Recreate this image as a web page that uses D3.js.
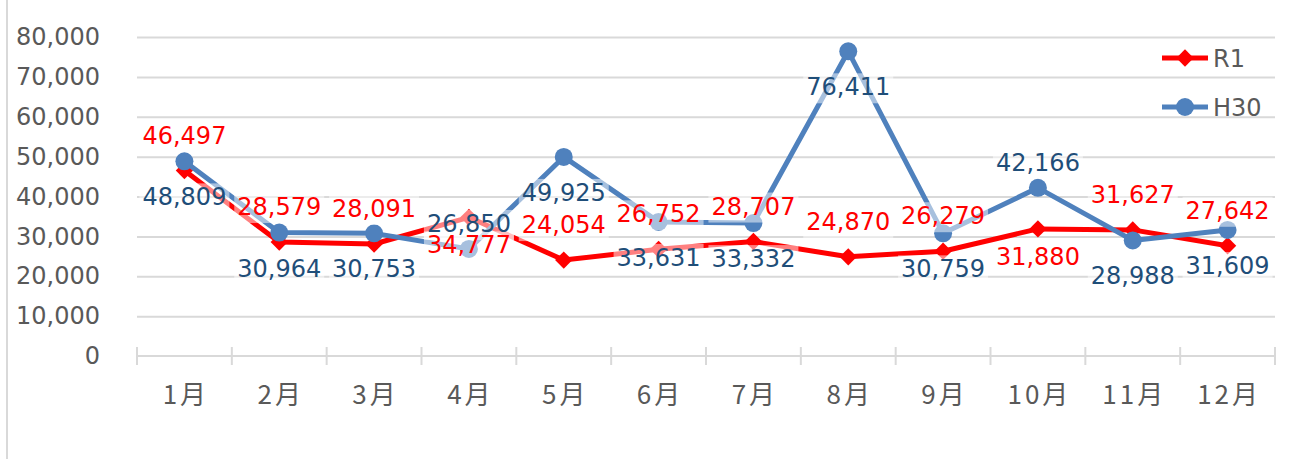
<!DOCTYPE html>
<html>
<head>
<meta charset="utf-8">
<script src="https://cdn.jsdelivr.net/npm/d3@7"></script>
<style>
  body { margin: 0; background: #fff; }
  svg { display: block; }
</style>
</head>
<body>
<div id="chart"></div>
<script>
// ---- data ----
const months = ['1月', '2月', '3月', '4月', '5月', '6月', '7月', '8月', '9月', '10月', '11月', '12月'];
const r1Values = [46497, 28579, 28091, 34777, 24054, 26752, 28707, 24870, 26279, 31880, 31627, 27642];
const h30Values = [48809, 30964, 30753, 26850, 49925, 33631, 33332, 76411, 30759, 42166, 28988, 31609];
const yTicks = [0, 10000, 20000, 30000, 40000, 50000, 60000, 70000, 80000];
const seriesNames = ['R1', 'H30'];

// label side per point ('a' above, 'b' below)
const r1LabelSide = ['a', 'a', 'a', 'b', 'a', 'a', 'a', 'a', 'a', 'b', 'a', 'a'];
const h30LabelSide = ['b', 'b', 'b', 'a', 'b', 'b', 'b', 'b', 'b', 'a', 'b', 'b'];

const width = 1289, height = 459;
const plotLeft = 137, plotRight = 1275, plotTop = 37, plotBottom = 356;
const gridColor = '#d9d9d9', textGray = '#595959';
const red = '#ff0000', blue = '#4f81bd', blueText = '#1f4e79';
const numFont = '"DejaVu Sans", Verdana, sans-serif';

const svg = d3.select('#chart').append('svg')
  .attr('width', width).attr('height', height);

svg.append('rect').attr('width', width).attr('height', height).attr('fill', '#fff');

// chart area border (left edge only visible)
svg.append('line')
  .attr('x1', 7).attr('x2', 7).attr('y1', 0).attr('y2', height)
  .attr('stroke', gridColor).attr('stroke-width', 2);

/*----- scales -----*/
const x = d3.scaleBand().domain(months).range([plotLeft, plotRight]);
const y = d3.scaleLinear().domain([0, 80000]).range([plotBottom, plotTop]);
const cx = m => x(m) + x.bandwidth() / 2;

/*----- gridlines -----*/
const grid = svg.append('g')
  .attr('transform', 'translate(' + plotLeft + ',0)')
  .call(d3.axisLeft(y).tickValues(yTicks.slice(1)).tickSize(-(plotRight - plotLeft)).tickFormat(''));
grid.select('.domain').remove();
grid.selectAll('line').attr('stroke', gridColor).attr('stroke-width', 2);

/*----- y axis labels -----*/
const yAxis = svg.append('g')
  .attr('transform', 'translate(' + plotLeft + ',0)')
  .call(d3.axisLeft(y).tickValues(yTicks).tickSize(0).tickPadding(37).tickFormat(d3.format(',')));
yAxis.select('.domain').remove();
yAxis.selectAll('text')
  .attr('fill', textGray)
  .style('font-family', numFont)
  .style('font-size', '24px');

/*----- x axis -----*/
const xAxis = svg.append('g');
xAxis.append('line')
  .attr('x1', plotLeft).attr('x2', plotRight)
  .attr('y1', plotBottom).attr('y2', plotBottom)
  .attr('stroke', gridColor).attr('stroke-width', 2);

const boundaries = months.map(m => x(m)).concat([x.range()[1]]);
xAxis.selectAll('.tickmark').data(boundaries).enter().append('line')
  .attr('class', 'tickmark')
  .attr('x1', d => d).attr('x2', d => d)
  .attr('y1', plotBottom - 9).attr('y2', plotBottom + 9)
  .attr('stroke', gridColor).attr('stroke-width', 2);

const ls = 3;
xAxis.selectAll('.xlabel').data(months).enter().append('text')
  .attr('class', 'xlabel')
  .attr('x', d => cx(d) + ls / 2)
  .attr('y', 404)
  .attr('text-anchor', 'middle')
  .attr('fill', textGray)
  .style('font-family', '"Noto Sans CJK JP", sans-serif')
  .style('font-size', '26px')
  .style('letter-spacing', ls + 'px')
  .text(d => d);

/*----- lines and markers -----*/
const line = d3.line()
  .x((d, i) => cx(months[i]))
  .y(d => y(d));

const diamond = d3.symbol(d3.symbolSquare, 150);

svg.append('path')
  .datum(r1Values)
  .attr('d', line)
  .attr('fill', 'none')
  .attr('stroke', red).attr('stroke-width', 5)
  .attr('stroke-linejoin', 'round');

svg.append('g').selectAll('path').data(r1Values).enter().append('path')
  .attr('d', diamond)
  .attr('transform', (d, i) => 'translate(' + cx(months[i]) + ',' + y(d) + ') rotate(45)')
  .attr('fill', red);

svg.append('path')
  .datum(h30Values)
  .attr('d', line)
  .attr('fill', 'none')
  .attr('stroke', blue).attr('stroke-width', 5)
  .attr('stroke-linejoin', 'round');

svg.append('g').selectAll('circle').data(h30Values).enter().append('circle')
  .attr('cx', (d, i) => cx(months[i]))
  .attr('cy', d => y(d))
  .attr('r', 9)
  .attr('fill', blue);

/*----- data labels (semi transparent white boxes) -----*/
const boxG = svg.append('g');
const labelG = svg.append('g');

function addLabels(values, sides, color, offA, offB) {
  values.forEach(function (v, i) {
    const t = labelG.append('text')
      .attr('x', cx(months[i]))
      .attr('y', y(v) + (sides[i] === 'a' ? offA : offB))
      .attr('text-anchor', 'middle')
      .attr('fill', color)
      .style('font-family', numFont)
      .style('font-size', '24px')
      .text(d3.format(',')(v));
    const bb = t.node().getBBox();
    boxG.append('rect')
      .attr('x', bb.x - 3).attr('y', bb.y)
      .attr('width', bb.width + 6).attr('height', bb.height + 2)
      .attr('fill', '#fff').attr('fill-opacity', 0.5);
  });
}
addLabels(r1Values, r1LabelSide, red, -27, 36);
addLabels(h30Values, h30LabelSide, blueText, -17, 44);

/*----- legend -----*/
const legend = svg.append('g');
const legendItems = [
  { name: seriesNames[0], color: red, ly: 58 },
  { name: seriesNames[1], color: blue, ly: 107 }
];
legendItems.forEach(function (it, k) {
  legend.append('line')
    .attr('x1', 1162).attr('x2', 1208)
    .attr('y1', it.ly).attr('y2', it.ly)
    .attr('stroke', it.color).attr('stroke-width', 5);
  if (k === 0) {
    legend.append('path')
      .attr('d', diamond)
      .attr('transform', 'translate(1185,' + it.ly + ') rotate(45)')
      .attr('fill', it.color);
  } else {
    legend.append('circle')
      .attr('cx', 1185).attr('cy', it.ly).attr('r', 9)
      .attr('fill', it.color);
  }
  legend.append('text')
    .attr('x', 1213).attr('y', it.ly + 9)
    .attr('fill', textGray)
    .style('font-family', numFont)
    .style('font-size', '24px')
    .text(it.name);
});
</script>
</body>
</html>
